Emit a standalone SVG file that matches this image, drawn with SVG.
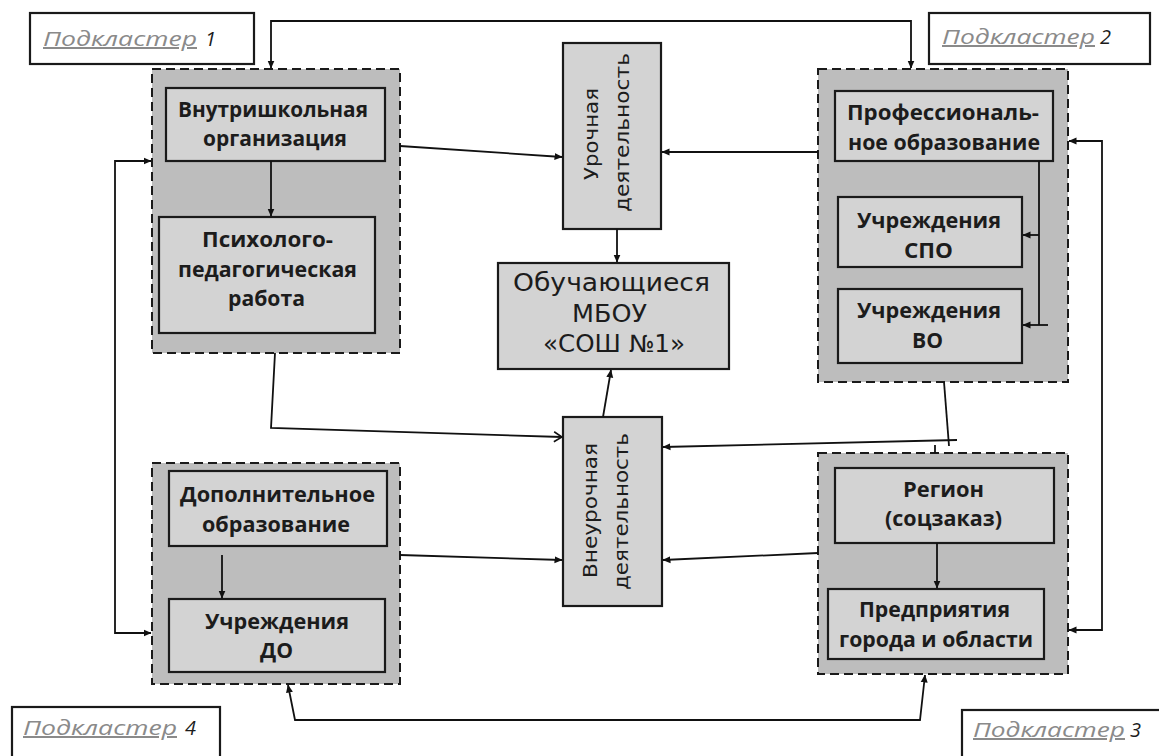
<svg xmlns="http://www.w3.org/2000/svg" width="1159" height="756" viewBox="0 0 1159 756">
<defs>
<marker id="arr" viewBox="0 0 8 8" refX="7.5" refY="4" markerWidth="8" markerHeight="8" markerUnits="userSpaceOnUse" orient="auto-start-reverse">
<path d="M0,0.5 L8,4 L0,7.5 z" fill="#111"/>
</marker>
<marker id="open" viewBox="0 0 10 12" refX="9" refY="6" markerWidth="10" markerHeight="12" markerUnits="userSpaceOnUse" orient="auto">
<path d="M1,1 L9,6 L1,11" fill="none" stroke="#111" stroke-width="1.6"/>
</marker>
<style>
.bg{fill:#ffffff}
.cluster{fill:#bdbdbd;stroke:#1a1a1a;stroke-width:2;stroke-dasharray:9 5}
.box{fill:#d3d3d3;stroke:#1a1a1a;stroke-width:2.2}
.lbl{fill:#ffffff;stroke:#1a1a1a;stroke-width:2.2}
.t{font-family:"Open Sans","Liberation Sans",sans-serif;font-weight:700;font-size:21px;fill:#1c1c1c;text-anchor:middle}
.g{font-family:"DejaVu Sans","Liberation Sans",sans-serif;font-size:24px;fill:#1c1c1c;text-anchor:middle}
.v{font-family:"DejaVu Sans","Liberation Sans",sans-serif;font-size:19px;fill:#1c1c1c;text-anchor:middle}
.pk{font-family:"Open Sans","Liberation Sans",sans-serif;font-style:italic;font-size:20px;fill:#8a8a8a;text-decoration:underline}
.pn{font-family:"Open Sans","Liberation Sans",sans-serif;font-style:italic;font-size:20px;fill:#1c1c1c}
.c{fill:none;stroke:#111;stroke-width:1.8}
</style>
</defs>
<rect class="bg" x="0" y="0" width="1159" height="756"/>

<g id="label1"><rect class="lbl" x="30" y="13" width="224" height="51"/><text class="pk" x="43" y="46" textLength="154" lengthAdjust="spacingAndGlyphs">Подкластер</text><text class="pn" x="205" y="46">1</text></g>
<g id="label2"><rect class="lbl" x="929" y="13" width="221" height="51"/><text class="pk" x="942" y="44" textLength="153" lengthAdjust="spacingAndGlyphs">Подкластер</text><text class="pn" x="1100" y="44">2</text></g>
<g id="label3"><rect class="lbl" x="962" y="710" width="210" height="60"/><text class="pk" x="973" y="737" textLength="152" lengthAdjust="spacingAndGlyphs">Подкластер</text><text class="pn" x="1130" y="737">3</text></g>
<g id="label4"><rect class="lbl" x="12" y="707" width="208" height="60"/><text class="pk" x="23" y="735" textLength="154" lengthAdjust="spacingAndGlyphs">Подкластер</text><text class="pn" x="185" y="735">4</text></g>

<g id="cluster1"><rect class="cluster" x="152" y="69" width="248" height="284"/></g>
<g id="cluster2"><rect class="cluster" x="818" y="69" width="250" height="313"/></g>
<g id="cluster3"><rect class="cluster" x="818" y="453" width="250" height="221"/></g>
<g id="cluster4"><rect class="cluster" x="152" y="463" width="248" height="221"/></g>

<g id="vnutrishk"><rect class="box" x="166" y="88" width="219" height="73"/>
<text class="t" x="273" y="117" textLength="190" lengthAdjust="spacingAndGlyphs">Внутришкольная</text>
<text class="t" x="275" y="146" textLength="144" lengthAdjust="spacingAndGlyphs">организация</text></g>

<g id="psych"><rect class="box" x="159" y="217" width="216" height="116"/>
<text class="t" x="267.5" y="247" textLength="131" lengthAdjust="spacingAndGlyphs">Психолого-</text>
<text class="t" x="267.5" y="277" textLength="179" lengthAdjust="spacingAndGlyphs">педагогическая</text>
<text class="t" x="266.5" y="306" textLength="77" lengthAdjust="spacingAndGlyphs">работа</text></g>

<g id="prof"><rect class="box" x="835" y="91" width="218" height="70"/>
<text class="t" x="943" y="120" textLength="192" lengthAdjust="spacingAndGlyphs">Профессиональ-</text>
<text class="t" x="944" y="150" textLength="192" lengthAdjust="spacingAndGlyphs">ное образование</text></g>

<g id="spo"><rect class="box" x="838" y="197" width="184" height="70"/>
<text class="t" x="929" y="228" textLength="144" lengthAdjust="spacingAndGlyphs">Учреждения</text>
<text class="t" x="928.5" y="258" textLength="49" lengthAdjust="spacingAndGlyphs">СПО</text></g>

<g id="vo"><rect class="box" x="838" y="289" width="184" height="74"/>
<text class="t" x="929" y="318" textLength="144" lengthAdjust="spacingAndGlyphs">Учреждения</text>
<text class="t" x="927.5" y="348" textLength="31" lengthAdjust="spacingAndGlyphs">ВО</text></g>

<g id="dop"><rect class="box" x="169" y="471" width="218" height="75"/>
<text class="t" x="277.5" y="502" textLength="195" lengthAdjust="spacingAndGlyphs">Дополнительное</text>
<text class="t" x="276" y="532" textLength="148" lengthAdjust="spacingAndGlyphs">образование</text></g>

<g id="do"><rect class="box" x="169" y="599" width="216" height="73"/>
<text class="t" x="277" y="629" textLength="144" lengthAdjust="spacingAndGlyphs">Учреждения</text>
<text class="t" x="276.5" y="658" textLength="33" lengthAdjust="spacingAndGlyphs">ДО</text></g>

<g id="region"><rect class="box" x="835" y="468" width="219" height="75"/>
<text class="t" x="943.5" y="497" textLength="81" lengthAdjust="spacingAndGlyphs">Регион</text>
<text class="t" x="943.5" y="526" textLength="117" lengthAdjust="spacingAndGlyphs">(соцзаказ)</text></g>

<g id="predpr"><rect class="box" x="828" y="589" width="216" height="70"/>
<text class="t" x="934.5" y="617" textLength="151" lengthAdjust="spacingAndGlyphs">Предприятия</text>
<text class="t" x="936" y="647" textLength="194" lengthAdjust="spacingAndGlyphs">города и области</text></g>

<g id="urochnaya"><rect class="box" x="563" y="43" width="98" height="186"/>
<text class="v" transform="translate(598,134) rotate(-90)" textLength="92" lengthAdjust="spacingAndGlyphs">Урочная</text>
<text class="v" transform="translate(629,132.5) rotate(-90)" textLength="159" lengthAdjust="spacingAndGlyphs">деятельность</text></g>

<g id="students"><rect class="box" x="498" y="263" width="231" height="106"/>
<text class="g" x="611.5" y="291" textLength="197" lengthAdjust="spacingAndGlyphs">Обучающиеся</text>
<text class="g" x="609.5" y="322" textLength="75" lengthAdjust="spacingAndGlyphs">МБОУ</text>
<text class="g" x="614" y="352" textLength="142" lengthAdjust="spacingAndGlyphs">«СОШ №1»</text></g>

<g id="vneurochnaya"><rect class="box" x="563" y="417" width="99" height="189"/>
<text class="v" transform="translate(597,510.5) rotate(-90)" textLength="135" lengthAdjust="spacingAndGlyphs">Внеурочная</text>
<text class="v" transform="translate(628,511.5) rotate(-90)" textLength="157" lengthAdjust="spacingAndGlyphs">деятельность</text></g>

<g id="connectors">
<path class="c" d="M271,68 V21 H911 V68" marker-start="url(#arr)" marker-end="url(#arr)"/>
<path class="c" d="M151,161 H115 V633 H151" marker-start="url(#arr)" marker-end="url(#arr)"/>
<path class="c" d="M1069,141 H1102 V630 H1069" marker-start="url(#arr)" marker-end="url(#arr)"/>
<path class="c" d="M288,685 L295,720 H920 L925,675" marker-start="url(#arr)" marker-end="url(#arr)"/>
<path class="c" d="M400,146 L562,157" marker-end="url(#arr)"/>
<path class="c" d="M818,152 L662,152" marker-end="url(#arr)"/>
<path class="c" d="M617,229 V262" marker-end="url(#arr)"/>
<path class="c" d="M603,417 L611,370" marker-end="url(#arr)"/>
<path class="c" d="M275,353 L271,428 L562,437" marker-end="url(#open)"/>
<path class="c" d="M944,382 L949,446"/>
<path class="c" d="M957,440 L663,447" marker-end="url(#arr)"/>
<path class="c" d="M935,445 V453"/>
<path class="c" d="M400,555 L562,560" marker-end="url(#arr)"/>
<path class="c" d="M818,553 L663,560" marker-end="url(#arr)"/>
<path class="c" d="M271,161 V216" marker-end="url(#arr)"/>
<path class="c" d="M222,555 V598" marker-end="url(#arr)"/>
<path class="c" d="M937,543 V588" marker-end="url(#arr)"/>
<path class="c" d="M1039,161 V325"/>
<path class="c" d="M1048,325 H1023" marker-end="url(#arr)"/>
<path class="c" d="M1039,235 H1023" marker-end="url(#arr)"/>
</g>
</svg>
